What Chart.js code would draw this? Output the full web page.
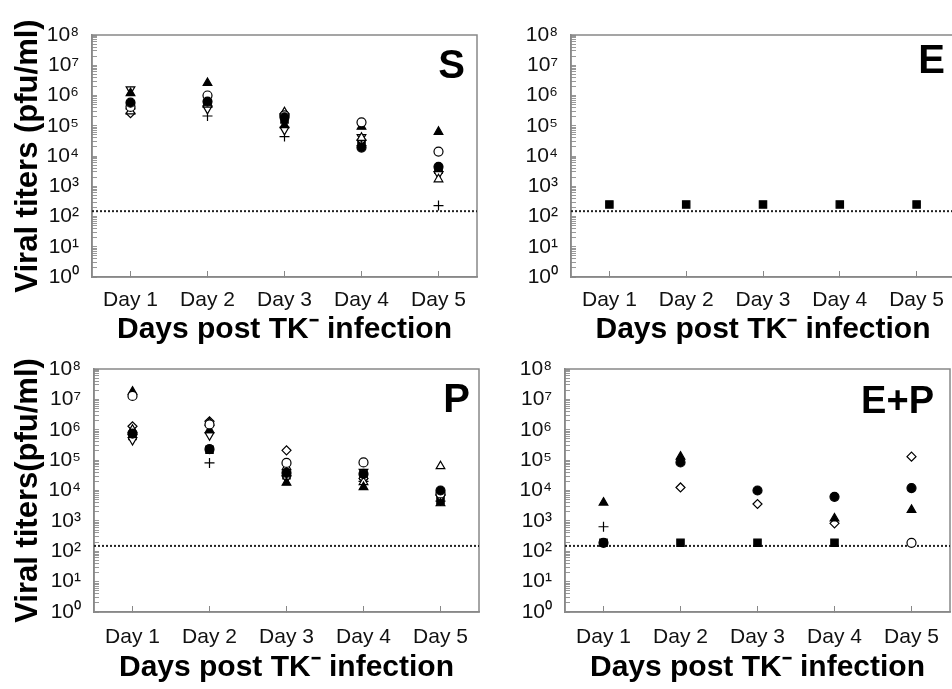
<!DOCTYPE html>
<html>
<head>
<meta charset="utf-8">
<script src="https://cdn.jsdelivr.net/npm/chart.js@4.4.1/dist/chart.umd.min.js"></script>
<style>
  html, body { margin: 0; padding: 0; background: #fff; overflow: hidden; width: 952px; height: 689px; }
  .panel { position: absolute; }
</style>
</head>
<body>
<div class="panel" style="left:0;top:0"><canvas id="panelS" width="480" height="345"></canvas></div>
<div class="panel" style="left:480px;top:0"><canvas id="panelE" width="480" height="345"></canvas></div>
<div class="panel" style="left:0;top:334px"><canvas id="panelP" width="480" height="355"></canvas></div>
<div class="panel" style="left:480px;top:334px"><canvas id="panelEP" width="480" height="355"></canvas></div>
<script>
// categories and tick labels
const days = ['Day 1', 'Day 2', 'Day 3', 'Day 4', 'Day 5'];
const decadeLabels = ['10⁰', '10¹', '10²', '10³', '10⁴', '10⁵', '10⁶', '10⁷', '10⁸'];
const detectionLimit = 150;

// one entry per mouse / marker
const seriesNames = ['filled circle', 'open circle', 'filled triangle', 'open triangle',
  'open inverted triangle', 'open diamond', 'filled square', 'plus'];

// viral titers (pfu/ml), one list per series, Day 1..Day 5
const titersS = [
  [5.8e5, 6.3e5, 1.9e5, 1.9e4, 4.4e3],
  [4.2e5, 1.0e6, 2.2e5, 1.3e5, 1.4e4],
  [1.2e6, 2.6e6, 1.05e5, 9.3e4, 6.3e4],
  [3.0e5, 5.0e5, 2.8e5, 4.0e4, 1.7e3],
  [1.6e6, 3.6e5, 7.3e4, 4.2e4, 2.5e3],
  [2.6e5, 4.5e5, 2.5e5, 3.4e4, 3.0e3],
  [4.9e5, 5.5e5, 1.6e5, 2.6e4, 3.5e3],
  [3.6e5, 2.1e5, 4.4e4, 2.2e4, 230]
];
const titersE = [
  [], [], [], [], [], [],
  [250, 250, 250, 250, 250],
  []
];
const titersP = [
  [7.5e5, 2.3e5, 3.8e4, 3.5e4, 1.0e4],
  [1.3e7, 1.5e6, 8.1e4, 8.4e4, 8.0e3],
  [1.8e7, 9.7e5, 1.8e4, 1.3e4, 3.8e3],
  [1.0e6, 1.7e6, 5.9e4, 1.9e4, 6.3e4],
  [4.6e5, 6.6e5, 2.5e4, 4.1e4, 5.9e3],
  [1.3e6, 1.9e6, 2.1e5, 2.5e4, 7.0e3],
  [6.2e5, 2.2e5, 3.2e4, 3.0e4, 5.0e3],
  [7.0e5, 8.1e4, 3.0e4, 2.0e4, 4.5e3]
];
const titersEP = [
  [190, 8.4e4, 1.0e4, 6.2e3, 1.2e4],
  [null, null, null, null, 190],
  [4.0e3, 1.3e5, null, 1.2e3, 2.3e3],
  [],
  [],
  [null, 1.26e4, 3.6e3, 830, 1.3e5],
  [190, 190, 190, 190, null],
  [640]
];

const markerStyles = [
  { pointStyle: 'circle', fill: '#000', radius: 4.5, rotation: 0 },
  { pointStyle: 'circle', fill: '#fff', radius: 4.5, rotation: 0 },
  { pointStyle: 'triangle', fill: '#000', radius: 5, rotation: 0 },
  { pointStyle: 'triangle', fill: '#fff', radius: 5, rotation: 0 },
  { pointStyle: 'triangle', fill: '#fff', radius: 5, rotation: 180 },
  { pointStyle: 'rectRot', fill: '#fff', radius: 4.5, rotation: 0 },
  { pointStyle: 'rect', fill: '#000', radius: 5.2, rotation: 0 },
  { pointStyle: 'cross', fill: '#000', radius: 5, rotation: 0 }
];

const FONT = '"Liberation Sans", Arial, sans-serif';

// frame around the plot area + big panel letter
const panelDecor = {
  id: 'panelDecor',
  beforeDatasetsDraw(chart) {
    const { ctx, chartArea: a } = chart;
    ctx.save();
    ctx.strokeStyle = '#888';
    ctx.lineWidth = 1.5;
    ctx.strokeRect(a.left, a.top, a.right - a.left, a.bottom - a.top);
    ctx.restore();
  },
  afterDraw(chart, args, opts) {
    const { ctx, chartArea: a } = chart;
    ctx.save();
    ctx.fillStyle = '#000';
    ctx.font = 'bold ' + opts.size + 'px ' + FONT;
    ctx.textAlign = 'right';
    ctx.textBaseline = 'middle';
    ctx.fillText(opts.text, a.right - opts.dx, a.top + opts.dy);
    ctx.restore();
  }
};

function makePanel(id, titers, cfg) {
  const datasets = titers.map((vals, k) => {
    const m = markerStyles[k];
    return {
      label: seriesNames[k],
      data: days.map((d, i) => vals[i] == null ? null : { x: i + 1, y: vals[i] }).filter(Boolean),
      pointStyle: m.pointStyle,
      pointRotation: m.rotation,
      pointRadius: m.radius,
      pointBackgroundColor: m.fill,
      pointBorderColor: '#000',
      pointBorderWidth: 1.2
    };
  });
  datasets.push({
    label: 'detection limit',
    data: [{ x: 0.5, y: detectionLimit }, { x: 5.5, y: detectionLimit }],
    showLine: true,
    borderColor: '#222',
    borderWidth: 2,
    borderDash: [2, 2],
    pointRadius: 0
  });

  new Chart(document.getElementById(id), {
    type: 'scatter',
    data: { datasets },
    plugins: [panelDecor],
    options: {
      responsive: false,
      animation: false,
      layout: { autoPadding: false, padding: { top: cfg.padTop, right: cfg.padRight, left: 0, bottom: 0 } },
      plugins: {
        legend: { display: false },
        tooltip: { enabled: false },
        panelDecor: { text: cfg.letter, size: cfg.letterSize, dx: cfg.letterDx, dy: cfg.letterDy }
      },
      scales: {
        x: {
          type: 'linear',
          min: 0.5,
          max: 5.5,
          afterBuildTicks: s => { s.ticks = days.map((d, i) => ({ value: i + 1 })); },
          afterFit: s => { s.height = cfg.xHeight; s.paddingLeft = 0; s.paddingRight = 0; },
          ticks: {
            autoSkip: false,
            maxRotation: 0,
            padding: cfg.xTickPad,
            color: '#111',
            font: { family: FONT, size: 21 },
            callback: v => days[v - 1]
          },
          grid: { drawOnChartArea: false, drawTicks: true, tickLength: -6, color: '#888' },
          border: { display: true, color: '#888', width: 1.5 },
          title: {
            display: true,
            text: 'Days post TK⁻ infection',
            color: '#000',
            font: { family: FONT, size: 30, weight: 'bold', lineHeight: 1 },
            padding: { top: 0, bottom: cfg.xTitlePad }
          }
        },
        y: {
          type: 'logarithmic',
          min: 1,
          max: 1e8,
          afterBuildTicks: s => {
            const t = [];
            for (let e = 0; e < 8; e++) {
              for (let m = 1; m < 10; m++) t.push({ value: m * Math.pow(10, e) });
            }
            t.push({ value: 1e8 });
            s.ticks = t;
          },
          afterFit: s => { s.width = cfg.yWidth; s.paddingTop = 0; s.paddingBottom = 0; },
          ticks: {
            autoSkip: false,
            padding: 18,
            color: '#111',
            font: { family: FONT, size: 21 },
            callback: v => {
              const e = Math.round(Math.log10(v));
              return Math.abs(v - Math.pow(10, e)) < 1e-6 * v ? decadeLabels[e] : '';
            }
          },
          grid: { drawOnChartArea: false, drawTicks: true, tickLength: -5, color: '#999' },
          border: { display: true, color: '#888', width: 1.5 },
          title: {
            display: !!cfg.yTitle,
            text: cfg.yTitle || '',
            color: '#000',
            font: { family: FONT, size: 31, weight: 'bold', lineHeight: 1 },
            padding: { top: 13, bottom: 0 }
          }
        }
      }
    }
  });
}

makePanel('panelS', titersS, {
  padTop: 35, padRight: 3, yWidth: 92, xHeight: 68, xTickPad: 17, xTitlePad: 0,
  yTitle: 'Viral titers (pfu/ml)', letter: 'S', letterSize: 40, letterDx: 12, letterDy: 32
});
makePanel('panelE', titersE, {
  padTop: 35, padRight: 5, yWidth: 91, xHeight: 68, xTickPad: 17, xTitlePad: 0,
  yTitle: '', letter: 'E', letterSize: 40, letterDx: 10, letterDy: 27
});
makePanel('panelP', titersP, {
  padTop: 35, padRight: 1, yWidth: 94, xHeight: 77, xTickPad: 19, xTitlePad: 6,
  yTitle: 'Viral titers(pfu/ml)', letter: 'P', letterSize: 40, letterDx: 9, letterDy: 32
});
makePanel('panelEP', titersEP, {
  padTop: 35, padRight: 10, yWidth: 85, xHeight: 77, xTickPad: 19, xTitlePad: 6,
  yTitle: '', letter: 'E+P', letterSize: 38, letterDx: 16, letterDy: 34
});
</script>
</body>
</html>
